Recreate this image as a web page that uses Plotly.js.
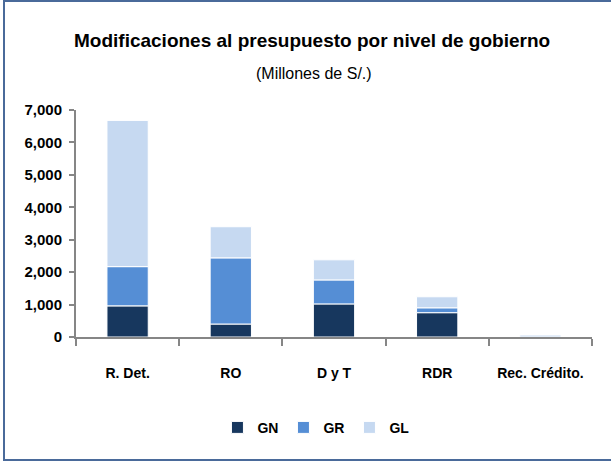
<!DOCTYPE html>
<html>
<head>
<meta charset="utf-8">
<script src="https://cdn.plot.ly/plotly-3.0.1.min.js"></script>
<style>
html,body{margin:0;padding:0;background:#fff;}
#wrap{position:relative;width:611px;height:461px;overflow:hidden;}
#chart{width:611px;height:461px;}
#frame{position:absolute;left:3px;top:0px;width:620px;height:457px;border:2px solid #4A6A9A;pointer-events:none;}
</style>
</head>
<body>
<div id="wrap"><div id="chart"></div><div id="frame"></div></div>
<script>
const categories = ["R. Det.", "RO", "D y T", "RDR", "Rec. Crédito."];
const gn = [960, 400, 1020, 750, -70];
const gr = [1210, 2040, 740, 150, 0];
const gl = [4510, 960, 620, 340, 60];
const yTicks = [0, 1000, 2000, 3000, 4000, 5000, 6000, 7000];
const yTickLabels = ["0", "1,000", "2,000", "3,000", "4,000", "5,000", "6,000", "7,000"];

const FONT = "'Liberation Sans', Arial, sans-serif";
const line = {color: "#ffffff", width: 1};
const traces = [
  {type: "bar", name: "GN", x: categories, y: gn, marker: {color: "#17375E", line: line}},
  {type: "bar", name: "GR", x: categories, y: gr, marker: {color: "#558ED5", line: line}},
  {type: "bar", name: "GL", x: categories, y: gl, marker: {color: "#C6D9F1", line: line}}
];
const layout = {
  width: 611, height: 461,
  margin: {l: 76, r: 19, t: 110, b: 124},
  paper_bgcolor: "#ffffff", plot_bgcolor: "#ffffff",
  barmode: "relative", bargap: 0.6,
  showlegend: true,
  legend: {orientation: "h", x: 0.465, xanchor: "center", y: -0.40, yanchor: "middle",
           font: {family: FONT, size: 14, color: "#000", weight: "bold"}, traceorder: "normal", itemwidth: 30},
  font: {family: FONT, color: "#000"},
  xaxis: {
    type: "category", showline: true, linecolor: "#868686", linewidth: 2,
    ticks: "outside", tickson: "boundaries", ticklen: 7, tickcolor: "#868686", tickwidth: 2,
    ticklabelstandoff: 22,
    tickfont: {family: FONT, size: 14, color: "#000", weight: "bold"},
    showgrid: false, zeroline: false, fixedrange: true
  },
  yaxis: {
    range: [0, 7000], tickvals: yTicks, ticktext: yTickLabels,
    showline: true, linecolor: "#868686", linewidth: 2,
    ticks: "outside", ticklen: 5, tickcolor: "#868686", tickwidth: 2,
    ticklabelstandoff: 4,
    tickfont: {family: FONT, size: 15, color: "#000", weight: "bold"},
    showgrid: false, zeroline: false, fixedrange: true
  },
  annotations: [
    {text: "<b>Modificaciones al presupuesto por nivel de gobierno</b>", xref: "paper", yref: "paper",
     x: 0.458, y: 1, yshift: 70, xanchor: "center", yanchor: "middle", showarrow: false,
     font: {family: FONT, size: 19, color: "#000"}},
    {text: "(Millones de S/.)", xref: "paper", yref: "paper",
     x: 0.462, y: 1, yshift: 37, xanchor: "center", yanchor: "middle", showarrow: false,
     font: {family: FONT, size: 16, color: "#000"}}
  ]
};
Plotly.newPlot("chart", traces, layout, {displayModeBar: false, staticPlot: true});
</script>
</body>
</html>
